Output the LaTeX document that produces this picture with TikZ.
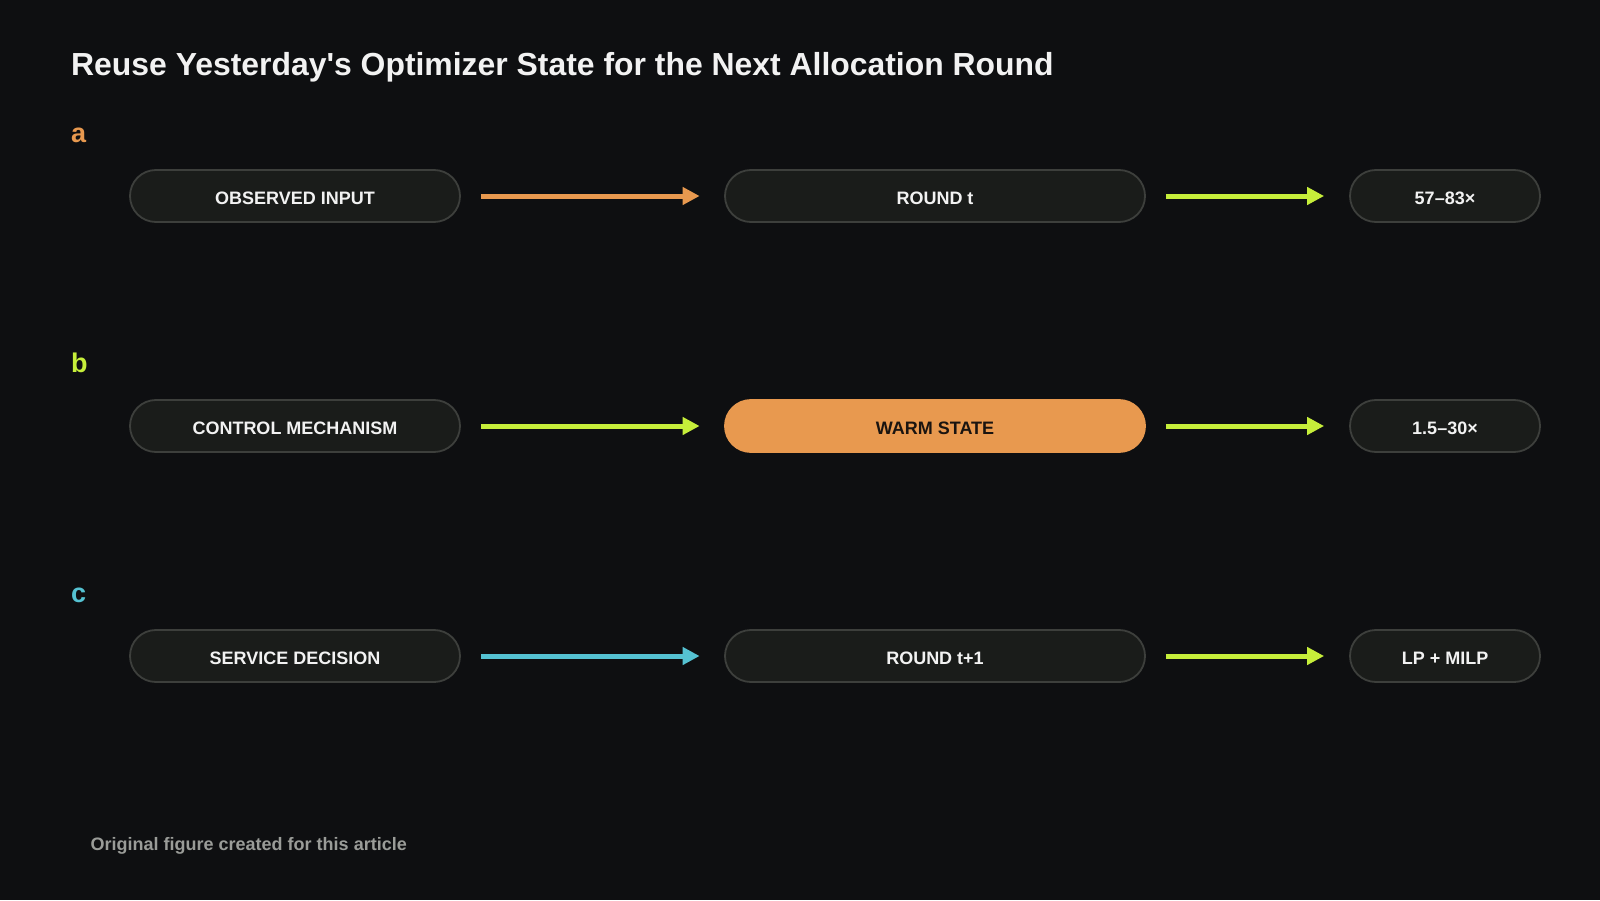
\documentclass[tikz,border=0pt]{standalone}
\usepackage{fontspec}
\setmainfont{Liberation Sans}
\usetikzlibrary{arrows.meta}
\definecolor{bgC}{HTML}{0E0F11}
\definecolor{boxC}{HTML}{1A1C1A}
\definecolor{edgeC}{HTML}{3D3F3C}
\definecolor{orangeC}{HTML}{E8994F}
\definecolor{limeC}{HTML}{C6EE3A}
\definecolor{cyanC}{HTML}{55C2D2}
\definecolor{inkC}{HTML}{F2F2F2}
\definecolor{noteC}{HTML}{9A9C98}
\definecolor{darkC}{HTML}{1A1410}
\begin{document}
\begin{tikzpicture}[x=1pt,y=-1pt,
  pill/.style={draw=edgeC,line width=1.8pt,fill=boxC,rounded corners=25.9pt,
    minimum height=52pt,inner sep=0pt,text=inkC,
    font=\fontsize{18}{20}\selectfont\bfseries,text height=16pt,text depth=0pt},
  hotpill/.style={pill,draw=orangeC,fill=orangeC,text=darkC},
  tag/.style={anchor=base west,inner sep=0pt,font=\fontsize{27}{29}\selectfont\bfseries},
  flow/.style={line width=5pt,-{Triangle[length=17pt,width=17pt]}}]
\fill[bgC] (0,0) rectangle (1600,900);
\useasboundingbox (0,0) rectangle (1600,900);
\node[anchor=base west,inner sep=0pt,text=inkC,font=\fontsize{31.9}{36}\selectfont\bfseries] (title) at (71,75) {Reuse Yesterday\textquotesingle s Optimizer State for the Next Allocation Round};
% row a
\node[tag,text=orangeC] (labA) at (71,142) {a};
\node[pill,minimum width=330pt] (obs) at (295,196) {OBSERVED INPUT};
\node[pill,minimum width=420pt] (roundt) at (935,196) {ROUND t};
\node[pill,minimum width=190pt] (speedA) at (1445,196) {57--83×};
\draw[flow,orangeC,shorten <=20pt,shorten >=24.5pt] (obs.east) -- (roundt.west);
\draw[flow,limeC,shorten <=20pt,shorten >=25pt] (roundt.east) -- (speedA.west);
% row b
\node[tag,text=limeC] (labB) at (71,372) {b};
\node[pill,minimum width=330pt] (ctrl) at (295,426) {CONTROL MECHANISM};
\node[hotpill,minimum width=420pt] (warm) at (935,426) {WARM STATE};
\node[pill,minimum width=190pt] (speedB) at (1445,426) {1.5--30×};
\draw[flow,limeC,shorten <=20pt,shorten >=24.5pt] (ctrl.east) -- (warm.west);
\draw[flow,limeC,shorten <=20pt,shorten >=25pt] (warm.east) -- (speedB.west);
% row c
\node[tag,text=cyanC] (labC) at (71,602) {c};
\node[pill,minimum width=330pt] (svc) at (295,656) {SERVICE DECISION};
\node[pill,minimum width=420pt] (roundtt) at (935,656) {ROUND t+1};
\node[pill,minimum width=190pt] (milp) at (1445,656) {LP + MILP};
\draw[flow,cyanC,shorten <=20pt,shorten >=24.5pt] (svc.east) -- (roundtt.west);
\draw[flow,limeC,shorten <=20pt,shorten >=25pt] (roundtt.east) -- (milp.west);
\node[anchor=base west,inner sep=0pt,text=noteC,font=\fontsize{18}{20}\selectfont\bfseries] (note) at (90.5,850) {Original figure created for this article};
\end{tikzpicture}
\end{document}
